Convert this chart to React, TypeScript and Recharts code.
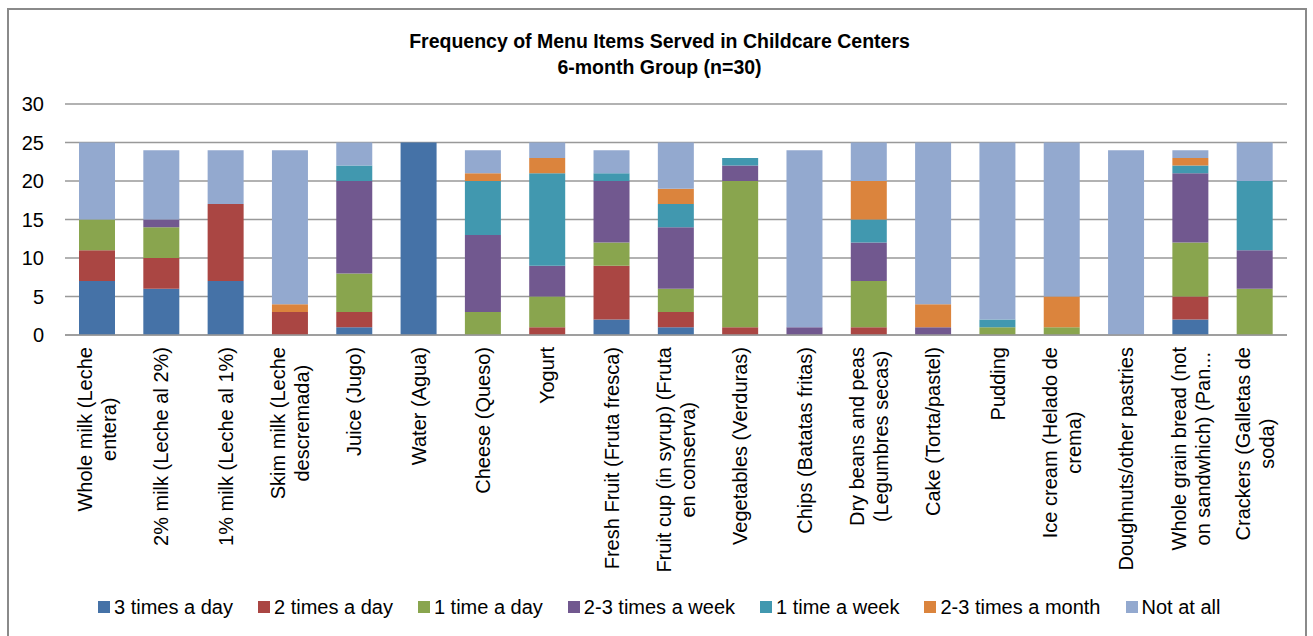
import React from 'react';
import { Bar, BarChart, CartesianGrid, Legend, XAxis, YAxis } from 'recharts';

const categories = [
  'Whole milk (Leche\nentera)',
  '2% milk (Leche al 2%)',
  '1% milk (Leche al 1%)',
  'Skim milk (Leche\ndescremada)',
  'Juice (Jugo)',
  'Water (Agua)',
  'Cheese (Queso)',
  'Yogurt',
  'Fresh Fruit (Fruta fresca)',
  'Fruit cup (in syrup) (Fruta\nen conserva)',
  'Vegetables (Verduras)',
  'Chips (Batatas fritas)',
  'Dry beans and peas\n(Legumbres secas)',
  'Cake (Torta/pastel)',
  'Pudding',
  'Ice cream (Helado de\ncrema)',
  'Doughnuts/other pastries',
  'Whole grain bread (not\non sandwhich) (Pan...',
  'Crackers (Galletas de\nsoda)',
];

const threeTimesDay = [7, 6, 7, 0, 1, 25, 0, 0, 2, 1, 0, 0, 0, 0, 0, 0, 0, 2, 0];
const twoTimesDay = [4, 4, 10, 3, 2, 0, 0, 1, 7, 2, 1, 0, 1, 0, 0, 0, 0, 3, 0];
const oneTimeDay = [4, 4, 0, 0, 5, 0, 3, 4, 3, 3, 19, 0, 6, 0, 1, 1, 0, 7, 6];
const twoThreeWeek = [0, 1, 0, 0, 12, 0, 10, 4, 8, 8, 2, 1, 5, 1, 0, 0, 0, 9, 5];
const oneTimeWeek = [0, 0, 0, 0, 2, 0, 7, 12, 1, 3, 1, 0, 3, 0, 1, 0, 0, 1, 9];
const twoThreeMonth = [0, 0, 0, 1, 0, 0, 1, 2, 0, 2, 0, 0, 5, 3, 0, 4, 0, 1, 0];
const notAtAll = [10, 9, 7, 20, 3, 0, 3, 2, 3, 6, 0, 23, 5, 21, 23, 20, 24, 1, 5];

const yTicks = [0, 5, 10, 15, 20, 25, 30];

const series = [
  { key: 'threeDay', name: '3 times a day', values: threeTimesDay, color: '#4572A7' },
  { key: 'twoDay', name: '2 times a day', values: twoTimesDay, color: '#AA4643' },
  { key: 'oneDay', name: '1 time a day', values: oneTimeDay, color: '#89A54E' },
  { key: 'twoThreeWeek', name: '2-3 times a week', values: twoThreeWeek, color: '#71588F' },
  { key: 'oneWeek', name: '1 time a week', values: oneTimeWeek, color: '#4198AF' },
  { key: 'twoThreeMonth', name: '2-3 times a month', values: twoThreeMonth, color: '#DB843D' },
  { key: 'notAtAll', name: 'Not at all', values: notAtAll, color: '#93A9CF' },
];

const data = categories.map((name, i) => {
  const row: Record<string, string | number> = { name };
  series.forEach(s => {
    row[s.key] = s.values[i];
  });
  return row;
});

const FONT = "'Liberation Sans', Arial, sans-serif";
const LABEL_SIZE = 20;

let ctx: CanvasRenderingContext2D | null = null;
function measure(text: string) {
  if (!ctx) ctx = document.createElement('canvas').getContext('2d');
  if (!ctx) return text.length * LABEL_SIZE * 0.5;
  ctx.font = `${LABEL_SIZE}px ${FONT}`;
  return ctx.measureText(text).width;
}

const CategoryTick = (props: any) => {
  const { x, y, payload } = props;
  const lines = String(payload.value).split('\n');
  const maxW = Math.max(...lines.map(measure));
  const top = y + 4;
  const cy = top + maxW / 2;
  return (
    <g>
      {lines.map((line, i) => {
        const cx = x + (i - (lines.length - 1) / 2) * 24;
        return (
          <text
            key={i}
            x={cx}
            y={cy}
            dy="0.35em"
            textAnchor="middle"
            transform={`rotate(-90, ${cx}, ${cy})`}
            fontFamily={FONT}
            fontSize={LABEL_SIZE}
            fill="#000"
          >
            {line}
          </text>
        );
      })}
    </g>
  );
};

const LegendContent = () => (
  <div
    style={{
      height: 30,
      display: 'flex',
      alignItems: 'center',
      paddingLeft: 98,
      fontFamily: FONT,
      fontSize: 20,
      color: '#000',
    }}
  >
    {series.map(s => (
      <div key={s.key} style={{ display: 'flex', alignItems: 'center', marginRight: 25 }}>
        <span style={{ width: 12, height: 12, background: s.color, marginRight: 4 }} />
        <span>{s.name}</span>
      </div>
    ))}
  </div>
);

export default function App() {
  return (
    <div style={{ position: 'absolute', left: 0, top: 0, width: 1313, height: 636, background: '#fff' }}>
      <div
        style={{
          position: 'absolute',
          left: 7,
          top: 8,
          width: 1300,
          height: 640,
          border: '2px solid #8a8a8a',
          boxSizing: 'border-box',
        }}
      />
      <div
        style={{
          position: 'absolute',
          left: 0,
          width: 1313,
          top: 28,
          textAlign: 'center',
          fontFamily: "'Liberation Sans Narrow', 'Liberation Sans', sans-serif",
          fontWeight: 'bold',
          fontSize: 19.5,
          lineHeight: '26px',
          color: '#000',
          paddingLeft: 6,
          boxSizing: 'border-box',
        }}
      >
        <div>Frequency of Menu Items Served in Childcare Centers</div>
        <div>6-month Group (n=30)</div>
      </div>
      <div style={{ position: 'absolute', left: 0, top: 0 }}>
        <BarChart
          width={1313}
          height={636}
          data={data}
          margin={{ top: 104, right: 26, bottom: 14, left: 25 }}
          barSize={36}
        >
          <CartesianGrid vertical={false} stroke="#999" strokeWidth={1.5} />
          <XAxis
            dataKey="name"
            interval={0}
            tickLine={false}
            axisLine={{ stroke: '#999', strokeWidth: 1.5 }}
            height={257}
            tick={<CategoryTick />}
          />
          <YAxis
            domain={[0, 30]}
            ticks={yTicks}
            width={40}
            axisLine={false}
            tickLine={false}
            tickMargin={15}
            tick={{ fontFamily: FONT, fontSize: 20, fill: '#000' }}
          />
          <Legend
            verticalAlign="bottom"
            content={<LegendContent />}
            wrapperStyle={{ left: 0, width: 1313, height: 30 }}
          />
          {series.map(s => (
            <Bar
              key={s.key}
              dataKey={s.key}
              name={s.name}
              stackId="a"
              fill={s.color}
              isAnimationActive={false}
            />
          ))}
        </BarChart>
      </div>
    </div>
  );
}
